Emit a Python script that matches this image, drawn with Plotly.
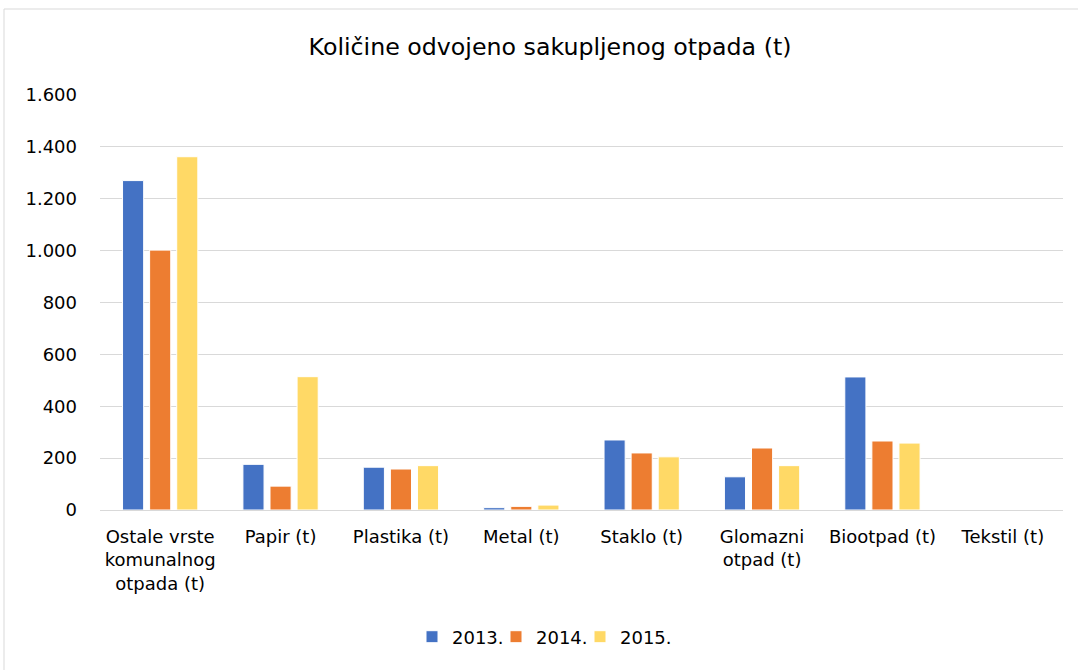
import plotly.graph_objects as go

categories = [
    "Ostale vrste<br>komunalnog<br>otpada (t)",
    "Papir (t)",
    "Plastika (t)",
    "Metal (t)",
    "Staklo (t)",
    "Glomazni<br>otpad (t)",
    "Biootpad (t)",
    "Tekstil (t)",
]
series_names = ["2013.", "2014.", "2015."]
values_2013 = [1270, 176, 165, 9, 270, 128, 513, 0]
values_2014 = [1002, 92, 158, 14, 220, 239, 266, 0]
values_2015 = [1362, 514, 171, 19, 205, 171, 258, 0]
colors = ["#4472C4", "#ED7D31", "#FFD966"]
y_ticks = [0, 200, 400, 600, 800, 1000, 1200, 1400, 1600]

FONT = "DejaVu Sans"

fig = go.Figure()
for name, vals, col in zip(series_names, [values_2013, values_2014, values_2015], colors):
    fig.add_trace(go.Bar(
        x=categories, y=vals, name=name,
        marker=dict(color=col, line=dict(color="white", width=1)),
    ))
# invisible spacer legend entry so the last legend label is not clipped
fig.add_trace(go.Scatter(x=[None], y=[None], mode="markers", name=" ",
                         marker=dict(color="rgba(0,0,0,0)", size=1,
                                     line=dict(width=0, color="rgba(0,0,0,0)")),
                         hoverinfo="skip"))

W, H = 1078, 670
L, R, T, B = 100, 15, 95, 160
pw, ph = W - L - R, H - T - B

def px_x(p):
    return (p - L) / pw

def px_y(p):
    return (H - B - p) / ph

fig.update_layout(
    width=W, height=H,
    margin=dict(l=L, r=R, t=T, b=B),
    paper_bgcolor="white", plot_bgcolor="white",
    separators=",.",
    font=dict(family=FONT, size=18, color="#000000"),
    title=dict(text="Količine odvojeno sakupljenog otpada (t)",
               x=550 / W, xref="container", xanchor="center",
               y=1 - 47 / H, yref="container", yanchor="middle",
               font=dict(family=FONT, size=23.7, color="#000000")),
    barmode="group", bargap=0.325, bargroupgap=0.22,
    legend=dict(orientation="h", x=580 / W, xref="container", xanchor="center",
                y=1 - 637 / H, yref="container", yanchor="middle",
                font=dict(family=FONT, size=18), itemwidth=30,
                entrywidth=39, entrywidthmode="pixels",
                traceorder="normal"),
    showlegend=True,
    xaxis=dict(showgrid=False, showline=False, ticks="",
               tickfont=dict(family=FONT, size=18), ticklabelstandoff=14),
    yaxis=dict(range=[0, 1600], tickvals=y_ticks, tickformat=",",
               showgrid=True, gridcolor="#D9D9D9", gridwidth=1,
               zeroline=True, zerolinecolor="#D9D9D9", zerolinewidth=1,
               showline=False, ticks="", ticklabelstandoff=22,
               tickfont=dict(family=FONT, size=18)),
    shapes=[dict(type="rect", xref="paper", yref="paper",
                 x0=px_x(4), x1=px_x(1090), y0=px_y(9), y1=px_y(690),
                 line=dict(color="#D9D9D9", width=1), fillcolor="rgba(0,0,0,0)",
                 layer="below")],
)

fig.write_html("out.html", config={"displayModeBar": False},
               post_script="document.body.style.margin='0';document.body.style.padding='0';")
